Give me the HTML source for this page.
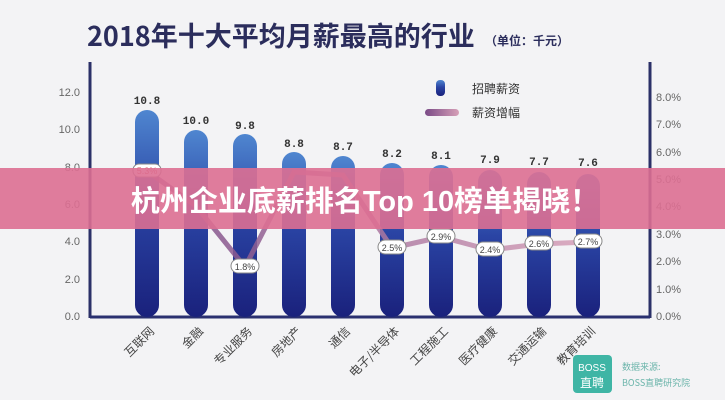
<!DOCTYPE html>
<html><head><meta charset="utf-8"><style>
body{margin:0;width:725px;height:400px;overflow:hidden;background:#f3f3f5;font-family:"Liberation Sans","Noto Sans CJK SC",sans-serif}
</style></head><body>
<svg width="725" height="400" viewBox="0 0 725 400" xmlns="http://www.w3.org/2000/svg" style="position:absolute;left:0;top:0">
<defs>
<linearGradient id="bg" x1="0" y1="0" x2="0" y2="1">
<stop offset="0" stop-color="#4f86d0"/><stop offset="0.45" stop-color="#2a44a4"/><stop offset="1" stop-color="#1a217c"/></linearGradient>
<linearGradient id="lg" x1="0" y1="0" x2="1" y2="0"><stop offset="0" stop-color="#7a4a86"/><stop offset="1" stop-color="#d7a0b8"/></linearGradient>
</defs>
<rect width="725" height="400" fill="#f3f3f5"/>
<text x="87" y="46" font-size="27" font-weight="bold" fill="#2b2d5c" font-family="Noto Sans CJK SC,sans-serif">2018年十大平均月薪最高的行业</text>
<text x="485" y="45" font-size="12" font-weight="bold" fill="#2b2d5c" font-family="Noto Sans CJK SC,sans-serif">（单位：千元）</text>
<g stroke="#2b3068" stroke-width="3"><line x1="90" y1="62" x2="90" y2="318"/><line x1="650" y1="62" x2="650" y2="318"/></g>
<line x1="90" y1="317" x2="650" y2="317" stroke="#2a3070" stroke-width="3"/>
<g font-size="11" fill="#666" text-anchor="end">
<text x="80" y="96">12.0</text><text x="80" y="133">10.0</text><text x="80" y="171">8.0</text><text x="80" y="208">6.0</text><text x="80" y="245">4.0</text><text x="80" y="283">2.0</text><text x="80" y="320">0.0</text></g>
<g font-size="11" fill="#666">
<text x="656" y="101">8.0%</text><text x="656" y="128">7.0%</text><text x="656" y="156">6.0%</text><text x="656" y="183">5.0%</text><text x="656" y="210">4.0%</text><text x="656" y="238">3.0%</text><text x="656" y="265">2.0%</text><text x="656" y="293">1.0%</text><text x="656" y="320">0.0%</text></g>
<g fill="url(#bg)">
<rect x="135" y="110" width="24" height="207" rx="12"/>
<rect x="184" y="130" width="24" height="187" rx="12"/>
<rect x="233" y="134" width="24" height="183" rx="12"/>
<rect x="282" y="152" width="24" height="165" rx="12"/>
<rect x="331" y="156" width="24" height="161" rx="12"/>
<rect x="380" y="163" width="24" height="154" rx="12"/>
<rect x="429" y="165" width="24" height="152" rx="12"/>
<rect x="478" y="170" width="24" height="147" rx="12"/>
<rect x="527" y="172" width="24" height="145" rx="12"/>
<rect x="576" y="174" width="24" height="143" rx="12"/>
</g>
<g font-size="11" font-weight="bold" fill="#333" text-anchor="middle" font-family="Liberation Mono,monospace">
<text x="147" y="104">10.8</text><text x="196" y="124">10.0</text><text x="245" y="129">9.8</text><text x="294" y="147">8.8</text><text x="343" y="150">8.7</text><text x="392" y="157">8.2</text><text x="441" y="159">8.1</text><text x="490" y="163">7.9</text><text x="539" y="165">7.7</text><text x="588" y="166">7.6</text></g>
<polyline points="147,171 196,206 245,267 294,172 343,175 392,248 441,237 490,250 539,244 588,242" fill="none" stroke="url(#lg)" stroke-width="5" opacity="0.85"/>
<g font-size="9" fill="#444" text-anchor="middle">
<g fill="#fff" stroke="#888"><rect x="133" y="164" width="28" height="13" rx="6"/><rect x="231" y="259" width="28" height="14" rx="7"/><rect x="378" y="240" width="28" height="14" rx="7"/><rect x="427" y="229" width="28" height="14" rx="7"/><rect x="476" y="242" width="28" height="14" rx="7"/><rect x="525" y="236" width="28" height="14" rx="7"/><rect x="574" y="234" width="28" height="14" rx="7"/></g>
<text x="147" y="174" fill="#c55">5.3%</text><text x="245" y="270">1.8%</text><text x="392" y="251">2.5%</text><text x="441" y="240">2.9%</text><text x="490" y="253">2.4%</text><text x="539" y="247">2.6%</text><text x="588" y="245">2.7%</text></g>
<rect x="436" y="80" width="9" height="16" rx="4" fill="url(#bg)"/>
<rect x="425" y="109" width="34" height="7" rx="3.5" fill="url(#lg)"/>
<g font-size="12" fill="#333" font-family="Noto Sans CJK SC,sans-serif"><text x="472" y="93">招聘薪资</text><text x="472" y="117">薪资增幅</text></g>
<g font-size="12" fill="#444" font-family="Noto Sans CJK SC,sans-serif" text-anchor="end">
<text transform="translate(155,332) rotate(-45)">互联网</text>
<text transform="translate(204,332) rotate(-45)">金融</text>
<text transform="translate(253,332) rotate(-45)">专业服务</text>
<text transform="translate(302,332) rotate(-45)">房地产</text>
<text transform="translate(351,332) rotate(-45)">通信</text>
<text transform="translate(400,332) rotate(-45)">电子/半导体</text>
<text transform="translate(449,332) rotate(-45)">工程施工</text>
<text transform="translate(498,332) rotate(-45)">医疗健康</text>
<text transform="translate(547,332) rotate(-45)">交通运输</text>
<text transform="translate(596,332) rotate(-45)">教育培训</text></g>
<rect x="573" y="355" width="39" height="38" rx="4" fill="#3fb5a5"/>
<text x="592" y="371" font-size="10" fill="#fff" text-anchor="middle">BOSS</text>
<text x="592" y="387" font-size="12" fill="#fff" text-anchor="middle" font-family="Noto Sans CJK SC,sans-serif">直聘</text>
<g font-size="9" fill="#6cb5ab" font-family="Noto Sans CJK SC,sans-serif"><text x="622" y="370">数据来源:</text><text x="622" y="386">BOSS直聘研究院</text></g>
<rect x="0" y="168" width="725" height="61" fill="#dd6f92" opacity="0.9"/>
<text x="365" y="211" font-size="29" font-weight="bold" fill="#fff" text-anchor="middle" font-family="Liberation Sans,Noto Sans CJK SC,sans-serif">杭州企业底薪排名Top 10榜单揭晓！</text>
</svg>
</body></html>
